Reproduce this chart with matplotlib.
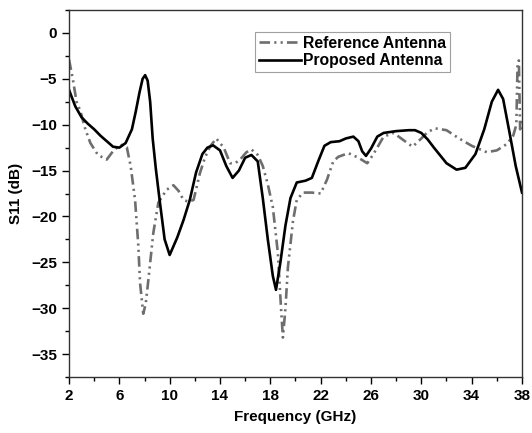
import numpy as np
import matplotlib.pyplot as plt
from matplotlib.ticker import MultipleLocator

# Reference antenna (grey dash-dot-dot)
f_ref = [2.0, 2.3, 2.6, 2.9, 3.3, 3.7, 4.3, 5.0, 5.6, 6.2, 6.6, 6.9, 7.25, 7.5,
         7.65, 7.9, 8.1, 8.3, 8.7, 9.1, 9.75, 10.3, 10.7, 11.1, 11.5, 11.9, 12.4,
         12.8, 13.2, 13.7, 14.3, 14.8, 15.2, 15.6, 16.1, 16.5, 17.0, 17.4, 17.8,
         18.2, 18.6, 18.85, 19.0, 19.2, 19.4, 19.8, 20.1, 20.6, 21.3, 22.0, 22.5,
         23.0, 23.4, 24.2, 25.0, 25.7, 26.1, 26.5, 27.0, 27.8, 28.5, 29.3, 30.0,
         30.5, 31.1, 32.0, 33.0, 34.0, 35.2, 36.0, 36.8, 37.3, 37.55, 37.65, 37.75,
         37.85, 38.0]
s_ref = [-2.9, -5.0, -7.5, -8.5, -10.5, -12.0, -13.3, -13.8, -12.7, -12.2, -12.5,
         -14.5, -18.2, -23.0, -27.3, -30.6, -29.5, -27.0, -21.8, -18.5, -17.1,
         -16.6, -17.2, -18.2, -18.4, -18.2, -15.3, -13.6, -12.4, -11.5, -12.5,
         -14.2, -14.2, -13.8, -13.0, -12.7, -13.3, -14.5, -16.5, -19.0, -24.0,
         -30.0, -33.2, -30.0, -25.5, -20.5, -18.2, -17.4, -17.4, -17.5, -16.0,
         -14.0, -13.5, -13.1, -13.6, -14.2, -13.4, -12.5, -11.3, -10.9, -11.6,
         -12.4, -11.5, -10.8, -10.4, -10.6, -11.5, -12.3, -13.0, -12.8, -12.1,
         -11.2, -10.0, -3.2, -3.0, -10.5, -9.5]

# Proposed antenna (solid black)
f_pro = [2.0, 2.5, 3.0, 3.5, 4.0, 4.5, 5.0, 5.5, 6.0, 6.5, 7.0, 7.3, 7.6, 7.85,
         8.05, 8.25, 8.45, 8.65, 8.9, 9.2, 9.6, 10.0, 10.6, 11.1, 11.6, 12.1,
         12.6, 13.0, 13.45, 14.0, 14.5, 15.0, 15.5, 16.0, 16.5, 17.0, 17.4, 17.8,
         18.2, 18.45, 18.8, 19.2, 19.6, 20.1, 20.8, 21.3, 21.8, 22.3, 22.8, 23.5,
         24.0, 24.6, 25.0, 25.3, 25.6, 26.0, 26.5, 27.0, 28.0, 29.0, 29.5, 30.0,
         30.5, 31.0, 32.0, 32.8, 33.5, 34.3, 35.0, 35.6, 36.1, 36.5, 37.0, 37.5,
         38.0]
s_pro = [-6.2, -8.0, -9.2, -9.9, -10.5, -11.2, -11.8, -12.4, -12.5, -12.0, -10.5,
         -8.6, -6.5, -5.0, -4.6, -5.2, -7.5, -11.5, -14.8, -18.2, -22.5, -24.2,
         -22.3, -20.4, -18.2, -15.2, -13.2, -12.5, -12.25, -12.8, -14.5, -15.8,
         -15.0, -13.6, -13.3, -14.0, -18.0, -22.5, -26.5, -28.0, -25.0, -21.0,
         -18.0, -16.3, -16.1, -15.8, -14.0, -12.3, -11.9, -11.8, -11.5, -11.3,
         -11.8, -12.9, -13.4, -12.6, -11.3, -10.9, -10.7, -10.6, -10.6, -10.9,
         -11.6, -12.5, -14.2, -14.9, -14.7, -13.2, -10.5, -7.5, -6.2, -7.2, -10.8,
         -14.5, -17.4]

plt.rcParams['font.family'] = ['Liberation Sans', 'DejaVu Sans']
plt.rcParams['font.weight'] = 'bold'

fig = plt.figure(figsize=(5.32, 4.33), dpi=100)
ax = fig.add_axes([0.1297, 0.1293, 0.8515, 0.8476])

ax.plot(f_ref, s_ref, color='#6e6e6e', lw=1.9,
        linestyle=(0, (4, 1.6, 0.8, 1.6, 0.8, 1.6)), label='Reference Antenna')
ax.plot(f_pro, s_pro, color='black', lw=1.9, label='Proposed Antenna')

ax.set_xlim(2, 38)
ax.set_ylim(-37.5, 2.5)
ax.set_xticks(np.arange(2, 39, 4))
ax.xaxis.set_minor_locator(MultipleLocator(2))
ax.yaxis.set_major_locator(MultipleLocator(5))
ax.yaxis.set_minor_locator(MultipleLocator(2.5))
ax.tick_params(which='major', direction='out', length=5, width=1, labelsize=11)
ax.tick_params(which='minor', direction='out', length=3, width=1)
for sp in ax.spines.values():
    sp.set_linewidth(1)
    sp.set_color('#333333')

ax.set_xlabel('Frequency (GHz)', fontsize=11, fontweight='bold', labelpad=5)
ax.set_ylabel('S11 (dB)', fontsize=11, fontweight='bold', labelpad=6)

leg = ax.legend(loc='upper left', bbox_to_anchor=(0.41, 0.94), fontsize=11.3,
                fancybox=False, edgecolor='#888888', handlelength=2.7,
                handletextpad=0.15, borderpad=0.25, borderaxespad=0,
                labelspacing=0.15)
leg.get_frame().set_linewidth(0.8)

plt.savefig('out.png', dpi=100)
